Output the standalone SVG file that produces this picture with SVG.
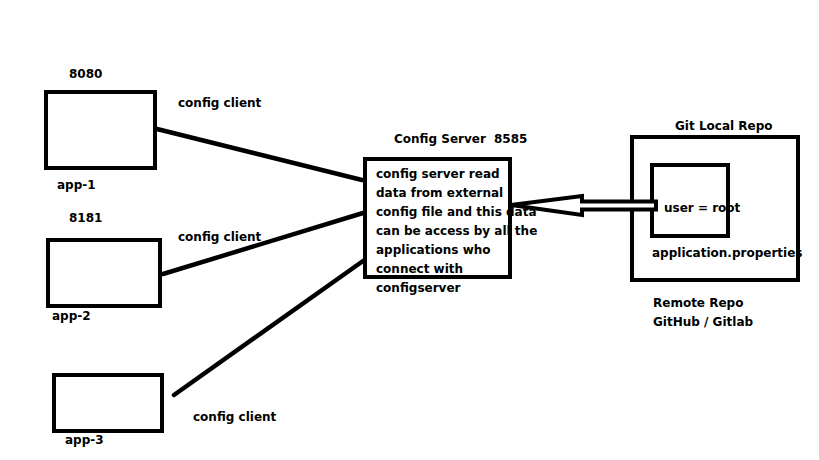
<svg xmlns="http://www.w3.org/2000/svg" width="819" height="460" viewBox="0 0 819 460">
<style>
text{font-family:"DejaVu Sans",Verdana,sans-serif;font-weight:bold;font-size:12px;fill:#000}
.box{fill:none;stroke:#000;stroke-width:4}
.ln{stroke:#000;stroke-width:4.5;fill:none;stroke-linecap:round}
</style>
<rect width="819" height="460" fill="#fff"/>
<g id="app1">
<text x="69" y="78">8080</text>
<rect class="box" x="46" y="92" width="109" height="76"/>
<text x="57" y="189">app-1</text>
</g>
<g id="app2">
<text x="69" y="222">8181</text>
<rect class="box" x="48" y="240" width="112" height="66"/>
<text x="52" y="320">app-2</text>
</g>
<g id="app3">
<rect class="box" x="54" y="375" width="108" height="56"/>
<text x="65" y="444">app-3</text>
</g>
<g id="server">
<text x="394" y="143">Config Server</text>
<text x="494" y="143">8585</text>
<text x="376" y="178">config server read</text>
<text x="376" y="197">data from external</text>
<text x="376" y="216">config file and this data</text>
<text x="376" y="235">can be access by all the</text>
<text x="376" y="254">applications who</text>
<text x="376" y="273">connect with</text>
<text x="376" y="292">configserver</text>
<rect class="box" x="365" y="159" width="145" height="118"/>
</g>
<g id="git">
<text x="675" y="130">Git Local Repo</text>
<rect class="box" x="632" y="137" width="166" height="143"/>
<text x="664" y="212">user = root</text>
<rect class="box" x="652" y="165" width="76" height="71"/>
<text x="652" y="257">application.properties</text>
<text x="653" y="307">Remote Repo</text>
<text x="653" y="326">GitHub / Gitlab</text>
</g>
<g id="connectors">
<line class="ln" x1="157" y1="129" x2="362" y2="180"/>
<text x="178" y="107">config client</text>
<line class="ln" x1="163" y1="274" x2="363" y2="213"/>
<text x="178" y="241">config client</text>
<line class="ln" x1="174" y1="395" x2="363" y2="261"/>
<text x="193" y="421">config client</text>
<polygon points="511,205 582,196 582,201.5 656,201.5 656,209.5 582,209.5 582,215" fill="#fff" stroke="#000" stroke-width="4" stroke-linejoin="miter"/>
</g>
</svg>
